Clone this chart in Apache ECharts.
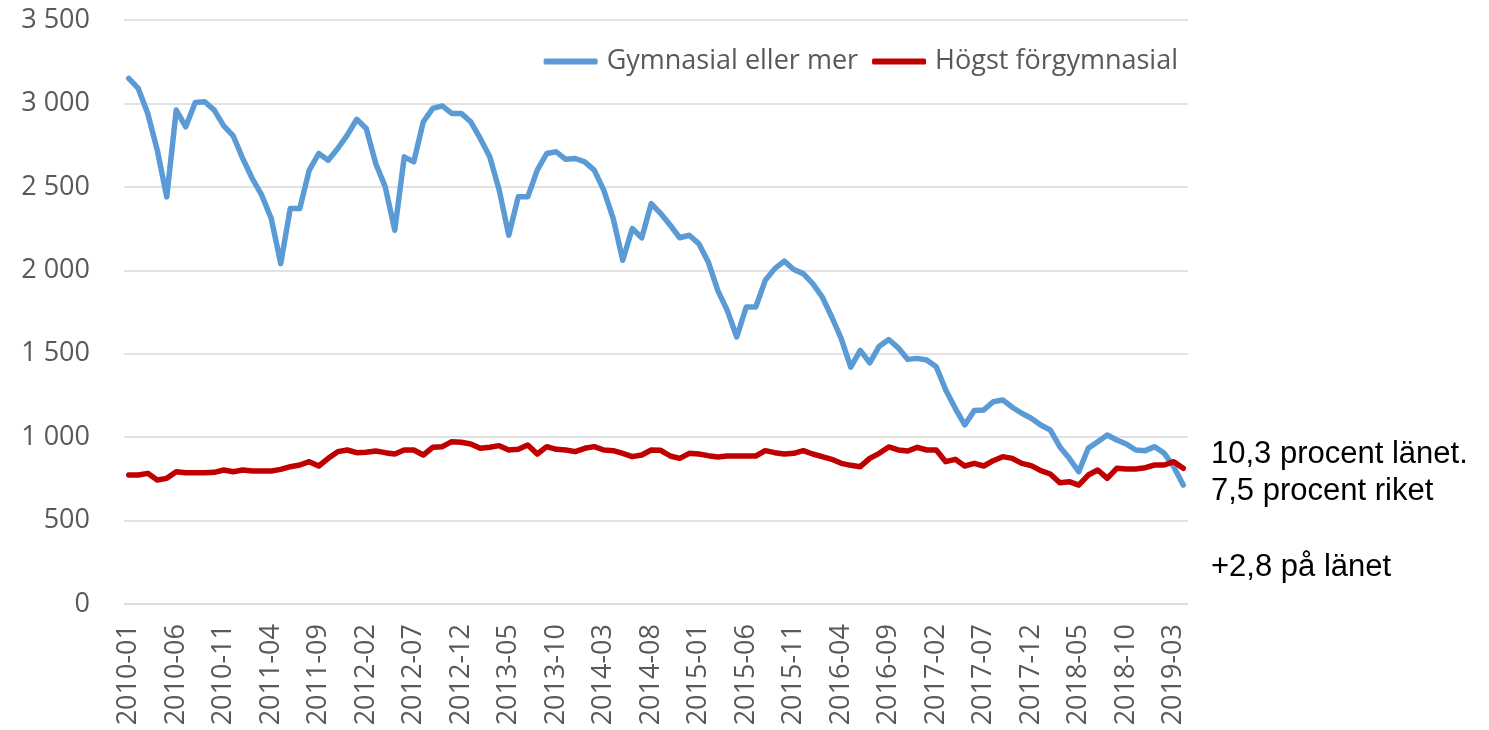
<!DOCTYPE html>
<html>
<head>
<meta charset="utf-8">
<script src="https://cdn.jsdelivr.net/npm/echarts@6/dist/echarts.min.js"></script>
<style>
  html, body { margin: 0; padding: 0; background: #fff; }
  #chart { width: 1489px; height: 730px; }
</style>
</head>
<body>
<div id="chart"></div>
<script>
// månader 2010-01 .. 2019-04
var months = [];
for (var y = 2010; y <= 2019; y++) {
  for (var m = 1; m <= 12; m++) {
    if (y == 2019 && m > 4) break;
    months.push(y + '-' + (m < 10 ? '0' + m : m));
  }
}

var seriesNames = ['Gymnasial eller mer', 'Högst förgymnasial'];

var gymnasial = [
  3150,3090,2940,2720,2440,2960,2860,3005,3010,2960,2865,2805,
  2670,2550,2450,2310,2040,2370,2370,2600,2700,2660,2730,2810,
  2905,2850,2640,2500,2240,2680,2650,2890,2970,2985,2940,2940,
  2890,2790,2680,2480,2210,2440,2440,2600,2700,2710,2665,2670,
  2650,2600,2480,2310,2060,2250,2195,2400,2340,2270,2195,2210,
  2160,2050,1880,1760,1600,1780,1780,1940,2010,2055,2005,1980,
  1920,1840,1720,1590,1420,1520,1445,1545,1585,1535,1466,1472,
  1462,1422,1283,1173,1073,1159,1163,1212,1223,1179,1143,1113,
  1073,1043,943,873,793,933,973,1013,983,959,923,919,
  943,903,823,713
];

var forgymnasial = [
  773,773,783,743,753,793,787,787,787,789,803,793,
  803,797,797,797,807,823,833,853,827,873,913,923,
  907,909,917,907,899,923,923,893,939,943,973,969,
  959,933,939,949,923,927,953,899,943,927,923,913,
  933,943,923,919,903,883,893,923,921,887,873,903,
  899,889,881,887,887,887,887,919,907,899,903,919,
  899,883,867,843,831,823,873,903,941,923,917,939,
  923,923,853,867,827,843,827,859,883,873,843,829,
  799,779,727,733,713,773,803,753,813,809,809,817,
  833,833,853,813
];

var noteLines = ['10,3 procent länet.', '7,5 procent riket', '+2,8 på länet'];

function tusental(v) {
  return String(v).replace(/\B(?=(\d{3})+(?!\d))/g, ' ');
}

var chart = echarts.init(document.getElementById('chart'));
var grey = '#595959';
var noteFont = '31px "Liberation Sans", Arial';
var option = {
  animation: false,
  textStyle: { fontFamily: 'Open Sans' },
  grid: { left: 124, right: 301, top: 20, bottom: 126 },
  legend: {
    top: 43,
    right: 306,
    itemWidth: 54,
    itemHeight: 6,
    itemGap: 14,
    icon: 'roundRect',
    data: seriesNames,
    textStyle: { color: grey, fontSize: 27, fontFamily: 'Open Sans', padding: [0, 0, 0, 4] }
  },
  xAxis: {
    type: 'category',
    data: months,
    boundaryGap: true,
    axisLine: { lineStyle: { color: '#d9d9d9', width: 1 } },
    axisTick: { show: false },
    axisLabel: {
      interval: 4,
      rotate: 90,
      margin: 20,
      color: grey,
      fontSize: 27,
      fontFamily: 'Open Sans'
    },
    splitLine: { show: false }
  },
  yAxis: {
    type: 'value',
    min: 0,
    max: 3500,
    interval: 500,
    axisLine: { show: false },
    axisTick: { show: false },
    axisLabel: {
      margin: 34,
      color: grey,
      fontSize: 27,
      fontFamily: 'Open Sans',
      formatter: tusental
    },
    splitLine: { lineStyle: { color: '#d9d9d9', width: 1.5 } }
  },
  series: [
    {
      name: seriesNames[0],
      type: 'line',
      data: gymnasial,
      showSymbol: false,
      symbol: 'none',
      color: '#5b9bd5',
      lineStyle: { width: 5.5, color: '#5b9bd5', cap: 'round', join: 'round' }
    },
    {
      name: seriesNames[1],
      type: 'line',
      data: forgymnasial,
      showSymbol: false,
      symbol: 'none',
      color: '#c00000',
      lineStyle: { width: 5.5, color: '#c00000', cap: 'round', join: 'round' }
    }
  ],
  graphic: [
    { type: 'text', left: 1211, top: 439, style: { text: noteLines[0], fill: '#000', font: noteFont } },
    { type: 'text', left: 1211, top: 476, style: { text: noteLines[1], fill: '#000', font: noteFont } },
    { type: 'text', left: 1211, top: 552, style: { text: noteLines[2], fill: '#000', font: noteFont } }
  ]
};
chart.setOption(option);
</script>
</body>
</html>
